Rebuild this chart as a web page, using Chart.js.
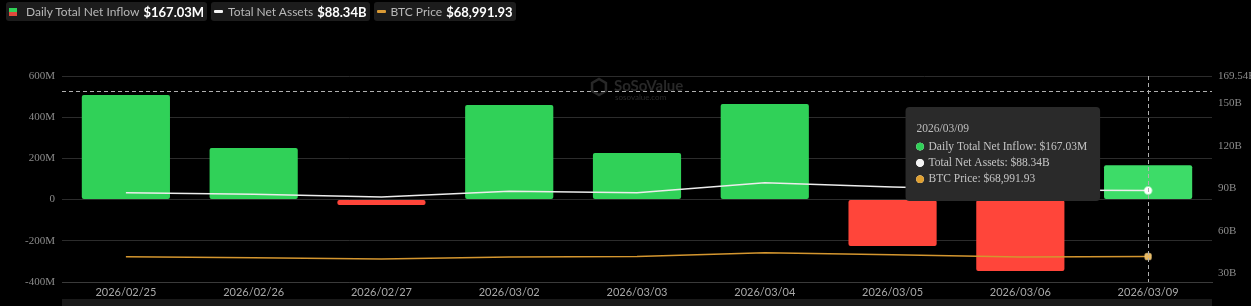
<!DOCTYPE html>
<html>
<head>
<meta charset="utf-8">
<script src="https://cdn.jsdelivr.net/npm/chart.js@4.4.1/dist/chart.umd.min.js"></script>
<style>
  html, body { margin: 0; padding: 0; background: #000; }
  #wrap { position: relative; width: 1251px; height: 306px; background: #000; }
  #chart { position: absolute; left: 0; top: 0; }
  #legend { position: absolute; left: 6px; top: 2px; display: flex; gap: 4px; font-family: Lato, sans-serif; }
  .item { display: flex; align-items: center; height: 19px; background: #1c1c1c; border-radius: 3px; padding: 0 3px 0 3px; }
  .item .lbl { color: #b8b8b8; font-size: 12px; margin-right: 4px; }
  .item .val { color: #fff; font-size: 13px; font-weight: bold; }
  .ico-bar { width: 8px; height: 8px; margin: 0 9px 0 0; background: linear-gradient(#30d158 50%, #e04a3c 50%); }
  .ico-line { width: 9px; height: 3px; margin: 0 5px 0 0; border-radius: 1px; }
</style>
</head>
<body>
<div id="wrap">
  <canvas id="chart" width="1251" height="306"></canvas>
  <div id="legend">
    <div class="item"><span class="ico-bar"></span><span class="lbl">Daily Total Net Inflow</span><span class="val">$167.03M</span></div>
    <div class="item"><span class="ico-line" style="background:#f2f2f2"></span><span class="lbl">Total Net Assets</span><span class="val">$88.34B</span></div>
    <div class="item"><span class="ico-line" style="background:#d99a35"></span><span class="lbl">BTC Price</span><span class="val">$68,991.93</span></div>
  </div>
</div>
<script>
// values
var dates = ['2026/02/25', '2026/02/26', '2026/02/27', '2026/03/02', '2026/03/03', '2026/03/04', '2026/03/05', '2026/03/06', '2026/03/09'];
var netInflow = [508, 250, -26, 459, 226, 464, -225, -347, 167.03];      // M USD
var netAssets = [86.9, 85.7, 83.8, 87.9, 86.9, 94.0, 90.9, 88.8, 88.34];  // B USD
var btcPrice = [68800, 68100, 67000, 68600, 68900, 72000, 70400, 68600, 68991.93];
var leftTicks = [-400, -200, 0, 200, 400, 600];
var rightTicks = [30, 60, 90, 120, 150, 169.54];

var GREEN = '#30d158', RED = '#ff453a', WHITE = '#ececec', ORANGE = '#d4962f';
var serif = 'Liberation Serif';

Chart.Tooltip.positioners.leftOfBar = function(elements) {
  if (!elements.length) return false;
  var ca = this.chart.chartArea;
  return { x: elements[0].element.x - 48, y: ca.top + 78, xAlign: 'right', yAlign: 'center' };
};

var extras = {
  id: 'extras',
  beforeDraw: function(chart) {
    var ctx = chart.ctx, ca = chart.chartArea;
    // bottom slider strip
    ctx.save();
    ctx.fillStyle = '#1a1a1a';
    ctx.fillRect(ca.left, chart.height - 7, ca.right - ca.left, 7);
    ctx.restore();
  },
  beforeDatasetsDraw: function(chart) {
    var ctx = chart.ctx, ca = chart.chartArea;
    var cx = (ca.left + ca.right) / 2;
    ctx.save();
    // watermark
    ctx.strokeStyle = '#282828';
    ctx.lineWidth = 2.5;
    ctx.beginPath();
    var hx = cx - 38, hy = ca.top + 11, r = 8;
    for (var i = 0; i < 6; i++) {
      var a = Math.PI / 3 * i + Math.PI / 6;
      var px = hx + r * Math.cos(a), py = hy + r * Math.sin(a);
      if (i === 0) ctx.moveTo(px, py); else ctx.lineTo(px, py);
    }
    ctx.closePath();
    ctx.stroke();
    ctx.fillStyle = '#282828';
    ctx.font = 'bold 15px Lato';
    ctx.textBaseline = 'middle';
    ctx.fillText('SoSoValue', cx - 23, ca.top + 10);
    ctx.font = '8px Lato';
    ctx.fillText('sosovalue.com', cx - 22, ca.top + 21);
    ctx.restore();
  },
  afterDatasetsDraw: function(chart) {
    var act = chart.getActiveElements();
    if (!act.length) return;
    var ctx = chart.ctx, ca = chart.chartArea;
    var x = Math.round(act[0].element.x) + 0.5;
    var y = ca.top + 15.5;
    ctx.save();
    ctx.strokeStyle = '#b0b0b0';
    ctx.lineWidth = 1;
    ctx.setLineDash([4, 3]);
    ctx.beginPath();
    ctx.moveTo(x, ca.top); ctx.lineTo(x, ca.bottom);
    ctx.moveTo(ca.left, y); ctx.lineTo(ca.right, y);
    ctx.stroke();
    ctx.restore();
  }
};

var ctx = document.getElementById('chart');
var chart = new Chart(ctx, {
  data: {
    labels: dates,
    datasets: [
      {
        type: 'bar', label: 'Daily Total Net Inflow', data: netInflow, yAxisID: 'y', order: 3,
        backgroundColor: netInflow.map(function(v) { return v >= 0 ? GREEN : RED; }),
        hoverBackgroundColor: netInflow.map(function(v) { return v >= 0 ? '#3ddc68' : '#ff5a4f'; }),
        borderRadius: 2, borderSkipped: false, categoryPercentage: 1, barPercentage: 0.69
      },
      {
        type: 'line', label: 'Total Net Assets', data: netAssets, yAxisID: 'y1', order: 1,
        borderColor: WHITE, borderWidth: 1.5, tension: 0, pointRadius: 0,
        pointHoverRadius: 3.5, pointHoverBackgroundColor: '#fff', pointHoverBorderColor: 'rgba(255,255,255,0.5)', pointHoverBorderWidth: 2
      },
      {
        type: 'line', label: 'BTC Price', data: btcPrice, yAxisID: 'y2', order: 2,
        borderColor: ORANGE, borderWidth: 1.5, tension: 0, pointRadius: 0, pointStyle: 'rectRounded',
        pointHoverRadius: 3.5, pointHoverBackgroundColor: '#e8b860', pointHoverBorderColor: 'rgba(240,200,120,0.7)', pointHoverBorderWidth: 1.5
      }
    ]
  },
  options: {
    responsive: false,
    animation: false,
    layout: { padding: { top: 76, left: 0, right: 0, bottom: 0 } },
    interaction: { mode: 'index', intersect: false },
    plugins: {
      legend: { display: false },
      tooltip: {
        position: 'leftOfBar',
        xAlign: 'right', yAlign: 'center',
        caretSize: 0, caretPadding: 0, cornerRadius: 4,
        backgroundColor: '#2a2a2a',
        titleColor: '#bdbdbd', bodyColor: '#c4c4c4',
        titleFont: { family: serif, size: 11.5, weight: 'normal' },
        bodyFont: { family: serif, size: 11.5 },
        titleMarginBottom: 4, bodySpacing: 2.5,
        padding: { top: 15, bottom: 15, left: 11, right: 13 },
        usePointStyle: true, boxWidth: 7, boxHeight: 7, boxPadding: 3,
        callbacks: {
          label: function(c) {
            var v = c.parsed.y;
            if (c.dataset.yAxisID === 'y') return 'Daily Total Net Inflow: $' + v.toFixed(2) + 'M';
            if (c.dataset.yAxisID === 'y1') return 'Total Net Assets: $' + v.toFixed(2) + 'B';
            return 'BTC Price: $' + v.toLocaleString('en-US', { minimumFractionDigits: 2, maximumFractionDigits: 2 });
          },
          labelColor: function(c) {
            var col = c.dataset.yAxisID === 'y' ? (c.parsed.y >= 0 ? GREEN : RED) : (c.dataset.yAxisID === 'y1' ? '#f4f4f4' : '#e0a030');
            return { borderColor: col, backgroundColor: col, borderWidth: 0 };
          },
          labelPointStyle: function() { return { pointStyle: 'circle', rotation: 0 }; }
        }
      }
    },
    scales: {
      x: {
        grid: { display: false, drawTicks: false },
        border: { color: '#3a3a3a' },
        ticks: { color: '#a8a8a8', font: { family: 'Lato', size: 11 }, padding: 4, maxRotation: 0, autoSkip: false },
        afterFit: function(s) { s.height = 24; }
      },
      y: {
        position: 'left', min: -400, max: 600,
        grid: { color: '#2c2c2c', drawTicks: false },
        border: { display: false },
        ticks: {
          color: '#8c8c8c', font: { family: serif, size: 11 }, padding: 7,
          callback: function(v) { return v === 0 ? '0' : v + 'M'; }
        },
        afterBuildTicks: function(s) { s.ticks = leftTicks.map(function(v) { return { value: v }; }); },
        afterFit: function(s) { s.width = 62; }
      },
      y1: {
        position: 'right', min: 23.6, max: 169.54,
        grid: { display: false, drawTicks: false },
        border: { display: false },
        ticks: {
          color: '#8c8c8c', font: { family: serif, size: 11 }, padding: 6,
          callback: function(v) { return v + 'B'; }
        },
        afterBuildTicks: function(s) { s.ticks = rightTicks.map(function(v) { return { value: v }; }); },
        afterFit: function(s) { s.width = 39; }
      },
      y2: { display: false, min: 49100, max: 209780 }
    }
  },
  plugins: [extras]
});

var last = dates.length - 1;
var act = chart.data.datasets.map(function(d, i) { return { datasetIndex: i, index: last }; });
chart.setActiveElements(act);
var barEl = chart.getDatasetMeta(0).data[last];
chart.tooltip.setActiveElements(act, { x: barEl.x, y: chart.chartArea.top + 15 });
chart.update();
</script>
</body>
</html>
